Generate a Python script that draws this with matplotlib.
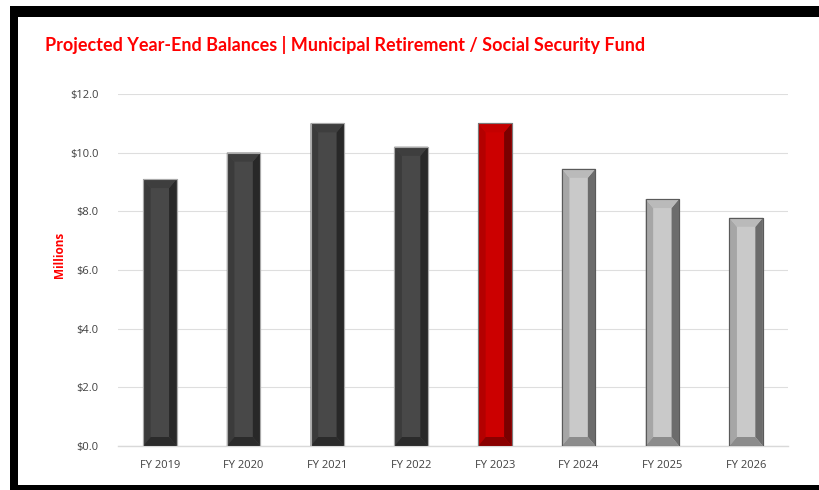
import matplotlib
matplotlib.use("Agg")
import matplotlib.pyplot as plt
from matplotlib.patches import Polygon, Rectangle

# Year-end balances, in millions of dollars
years = ["FY 2019", "FY 2020", "FY 2021", "FY 2022", "FY 2023",
         "FY 2024", "FY 2025", "FY 2026"]
balances = [9.1, 10.0, 11.0, 10.2, 11.0, 9.45, 8.42, 7.78]
# actual / current / projected
kinds = ["actual", "actual", "actual", "actual", "current",
         "projected", "projected", "projected"]
yticks = [0, 2, 4, 6, 8, 10, 12]

# face, left bevel, right bevel, top bevel, bottom bevel, outline
palette = {
    "actual": ("#484848", "#3b3b3b", "#282828", "#3e3e3e", "#2b2b2b", "#a9a9a9"),
    "current": ("#cc0000", "#b40000", "#7a0000", "#c40000", "#8a0000", "#7a7a7a"),
    "projected": ("#c9c9c9", "#a6a6a6", "#6c6c6c", "#bababa", "#8c8c8c", "#5a5a5a"),
}

fig = plt.figure(figsize=(8.2, 4.9), dpi=100)
ax = fig.add_axes([118 / 820, 44 / 490, 670 / 820, 352 / 490])

width = 0.4
bev_x = 0.09
bev_y = 9 / 352 * 12  # about 9 px tall

for i, (val, kind) in enumerate(zip(balances, kinds)):
    face, left, right, top, bottom, edge = palette[kind]
    ax.bar(i, val, width=width, color=face, edgecolor=edge, linewidth=0.8,
           zorder=3)
    x0, x1 = i - width / 2, i + width / 2
    ix0, ix1 = x0 + bev_x, x1 - bev_x
    iy0, iy1 = bev_y, val - bev_y
    pieces = [
        ([(x0, 0), (ix0, iy0), (ix0, iy1), (x0, val)], left),
        ([(x1, 0), (ix1, iy0), (ix1, iy1), (x1, val)], right),
        ([(x0, val), (ix0, iy1), (ix1, iy1), (x1, val)], top),
        ([(x0, 0), (ix0, iy0), (ix1, iy0), (x1, 0)], bottom),
    ]
    for pts, col in pieces:
        ax.add_patch(Polygon(pts, closed=True, facecolor=col,
                             edgecolor="none", zorder=4))
    ax.add_patch(Rectangle((x0, 0), width, val, facecolor="none",
                           edgecolor=edge, linewidth=0.8, zorder=5))

ax.set_xlim(-0.5, len(years) - 0.5)
ax.set_ylim(0, 12)
ax.set_xticks(range(len(years)))
ax.set_xticklabels(years)
ax.set_yticks(yticks)
ax.set_yticklabels([f"${v:.1f}" for v in yticks])
ax.tick_params(length=0, labelsize=8, colors="#404040")
ax.tick_params(axis="x", pad=10)
ax.tick_params(axis="y", pad=14)
ax.grid(axis="y", color="#dedede", linewidth=0.8, zorder=0)
for side in ["top", "right", "left"]:
    ax.spines[side].set_visible(False)
ax.spines["bottom"].set_color("#d9d9d9")
ax.spines["bottom"].set_linewidth(1.0)

for lab in ax.get_xticklabels() + ax.get_yticklabels():
    lab.set_family("Open Sans")

fig.text(60 / 820, 1 - 255 / 490, "Millions", rotation=90, color="#ff0000",
         fontsize=8.5, fontweight="bold", family="Open Sans",
         ha="center", va="center")
fig.text(45 / 820, 1 - 45 / 490,
         "Projected Year-End Balances | Municipal Retirement / Social Security Fund",
         color="#ff0000", fontsize=13, fontweight="bold", family="Lato",
         ha="left", va="center")

# black frame around the chart
frame = [
    (10 / 820, 1 - 17 / 490, 1 - 10 / 820, 11 / 490),
    (10 / 820, 0, 8 / 820, 1 - 6 / 490),
    (10 / 820, 0, 1 - 10 / 820, 5 / 490),
]
for x, y, w, h in frame:
    fig.add_artist(Rectangle((x, y), w, h, transform=fig.transFigure,
                             facecolor="black", edgecolor="none"))

fig.savefig("out.png", dpi=100)
